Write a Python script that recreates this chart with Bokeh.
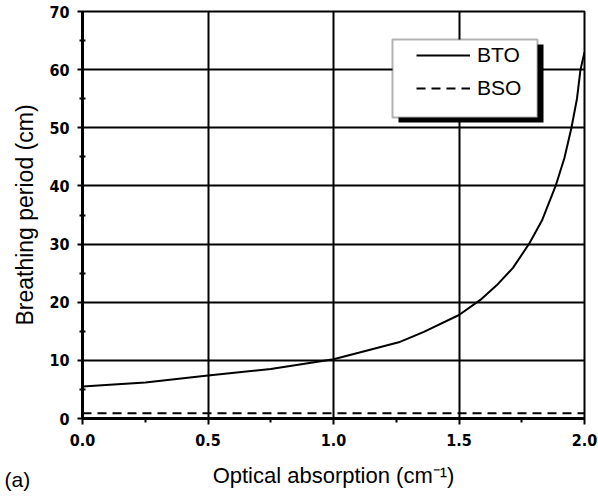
import math
from bokeh.plotting import figure
from bokeh.models import (FixedTicker, NumeralTickFormatter, Legend, LegendItem,
                          BoxAnnotation, Title)
from bokeh.embed import file_html
from bokeh.resources import INLINE

# ---- data ----
bto_x = [0.0, 0.25, 0.5, 0.75, 1.0, 1.1, 1.26, 1.36, 1.5, 1.585, 1.65, 1.715,
         1.78, 1.83, 1.885, 1.92, 1.948, 1.97, 1.984, 2.0]
bto_y = [5.5, 6.2, 7.4, 8.5, 10.2, 11.3, 13.1, 14.9, 17.8, 20.4, 22.9, 25.9,
         30.1, 34.0, 40.0, 44.8, 50.0, 55.0, 60.0, 63.0]
bso_x = [0.0, 2.0]
bso_y = [0.9, 0.9]

x_ticks = [0.0, 0.5, 1.0, 1.5, 2.0]
x_minor = [0.25, 0.75, 1.25, 1.75]
y_ticks = [0, 10, 20, 30, 40, 50, 60, 70]
y_minor = [5, 15, 25, 35, 45, 55, 65]

TICK_FONT = "DejaVu Sans Condensed"
TEXT_FONT = "Liberation Sans"

p = figure(width=598, height=497, x_range=(0, 2), y_range=(0, 70),
           output_backend="svg", toolbar_location=None,
           min_border_left=82, min_border_right=14,
           min_border_top=11, min_border_bottom=79)
p.background_fill_color = "white"
p.border_fill_color = "white"
p.outline_line_color = "black"
p.outline_line_width = 2

# grid
p.xgrid.ticker = FixedTicker(ticks=x_ticks)
p.ygrid.ticker = FixedTicker(ticks=y_ticks)
for g in (p.xgrid, p.ygrid):
    g.grid_line_color = "black"
    g.grid_line_width = 2
    g.grid_line_alpha = 1.0

# axes
xa = p.xaxis[0]
ya = p.yaxis[0]
xa.ticker = FixedTicker(ticks=x_ticks, minor_ticks=x_minor)
ya.ticker = FixedTicker(ticks=y_ticks, minor_ticks=y_minor)
xa.formatter = NumeralTickFormatter(format="0.0")
ya.formatter = NumeralTickFormatter(format="0")
for a in (xa, ya):
    a.axis_line_color = "black"
    a.axis_line_width = 3
    a.major_tick_line_color = "black"
    a.major_tick_line_width = 2
    a.minor_tick_line_color = "black"
    a.minor_tick_line_width = 2
    a.major_label_text_font = TICK_FONT
    a.major_label_text_font_style = "bold"
    a.major_label_text_font_size = "16px"
    a.major_label_text_color = "black"
xa.major_tick_in = 0
xa.major_tick_out = 6
xa.minor_tick_in = 0
xa.minor_tick_out = 4
xa.major_label_standoff = 9
ya.major_tick_in = 0
ya.major_tick_out = 5
ya.minor_tick_in = 3
ya.minor_tick_out = 3
ya.major_label_standoff = 8

xa.axis_label = "Optical absorption (cm\u207b\u00b9)"
xa.axis_label_text_font = TEXT_FONT
xa.axis_label_text_font_style = "normal"
xa.axis_label_text_font_size = "22px"
xa.axis_label_text_color = "black"
xa.axis_label_standoff = 14

# curves
bto = p.line(x=bto_x, y=bto_y, line_color="black", line_width=2)
bso = p.line(x=bso_x, y=bso_y, line_color="black", line_width=2, line_dash="9 6")

# y axis title as a side title, shifted slightly downward
ytitle = Title(text="Breathing period (cm)", align="center", offset=-9,
               text_font=TEXT_FONT, text_font_size="23px",
               text_font_style="normal", text_color="black", standoff=18)
p.add_layout(ytitle, "left")

# panel tag "(a)" in the lower-left corner
tag = Title(text="(a)", align="left", vertical_align="top",
            offset=-78, standoff=-46,
            text_font=TEXT_FONT, text_font_size="21px",
            text_font_style="normal", text_color="black")
p.add_layout(tag, "below")

# legend box with shadow
shadow = BoxAnnotation(left=316, right=461, bottom=296, top=374,
                       left_units="screen", right_units="screen",
                       bottom_units="screen", top_units="screen",
                       fill_color="black", fill_alpha=1.0, line_alpha=0)
box = BoxAnnotation(left=310, right=455, bottom=301, top=379,
                    left_units="screen", right_units="screen",
                    bottom_units="screen", top_units="screen",
                    fill_color="white", fill_alpha=1.0,
                    line_color="black", line_width=2)
p.add_layout(shadow)
p.add_layout(box)

legend = Legend(items=[LegendItem(label="BTO", renderers=[bto]),
                       LegendItem(label="BSO", renderers=[bso])],
                location=(334, 318), orientation="vertical",
                background_fill_alpha=0, border_line_alpha=0,
                padding=0, margin=0, spacing=9,
                glyph_width=54, glyph_height=20, label_height=20,
                label_standoff=7, label_text_font=TEXT_FONT,
                label_text_font_size="21px", label_text_color="black")
p.add_layout(legend, "center")

open("out.html", "w").write(file_html(p, INLINE))
